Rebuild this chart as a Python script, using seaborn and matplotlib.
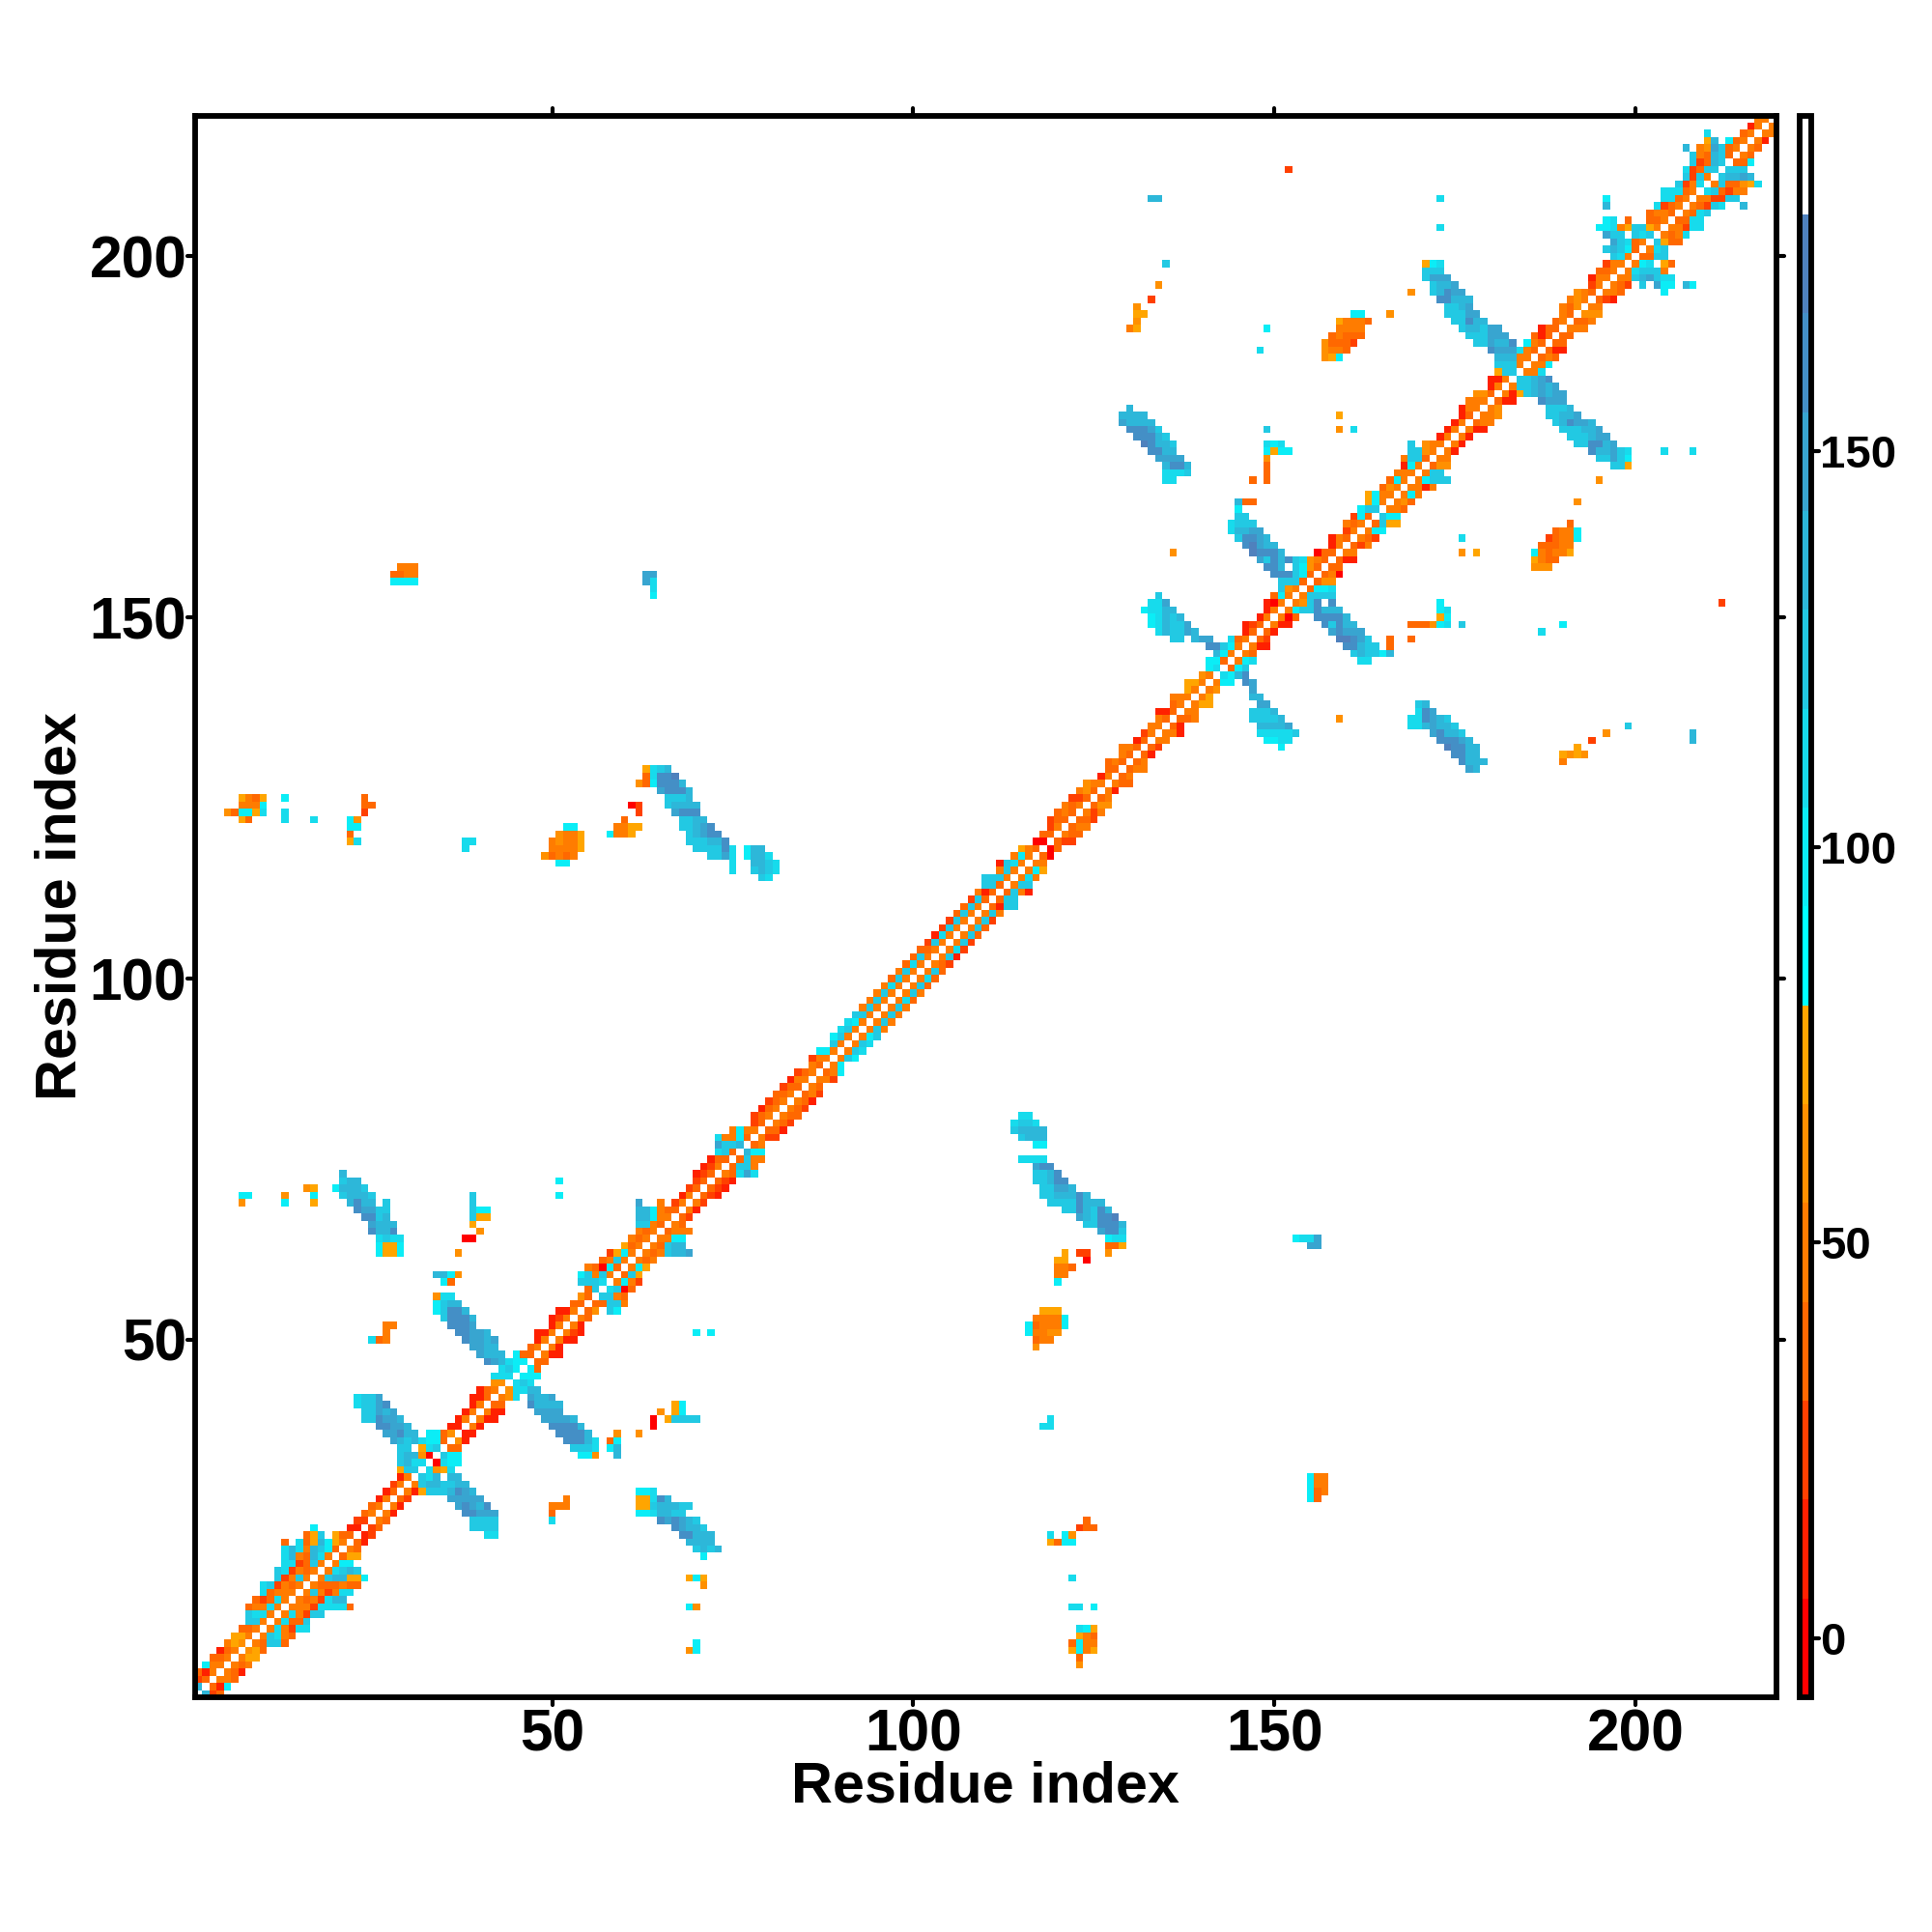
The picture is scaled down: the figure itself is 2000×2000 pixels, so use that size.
import numpy as np
import pandas as pd
import matplotlib
matplotlib.use("Agg")
import matplotlib.pyplot as plt
from matplotlib.colors import ListedColormap, BoundaryNorm
from matplotlib.markers import MarkerStyle
import seaborn as sns

N_RES = 219
DIAGONAL_VALUE = 186.0
BOUNDS = [-7.5, 5, 17.5, 30, 42.5, 55, 67.5, 80, 92.5, 105, 117.5, 130, 142.5, 155, 167.5, 180, 192.5]
BIN_COLORS = ["#ff0000", "#ff2000", "#ff4000", "#ff6800", "#ff7c00", "#ff9000", "#ffa500",
              "#00ffff", "#0bedf6", "#17dbec", "#22c9e3", "#2db7d9", "#38a5d0", "#448fc6", "#4f81bd", "#ffffff"]
# one letter per colour bin, with a representative value
LEVELS = dict(r=0, s=11, t=24, u=36, o=49, p=61, q=74, c=86, d=98, e=111, f=124, g=136, h=149, i=161, j=174)

# cells right of the white diagonal, one string per residue (x = residue + 1, + 2, ...)
BAND_1_40 = ["gtu", "usd", "oou", "ous", "ouo", "oqq", "pqu", "ouffu", "ofeou", "oeotee",
             "oeuuf", "oeotff", "oooteeeeu", "ouotegg", "ofotoee", "ouuuouu", "ofggqqd", "oefgf", "odd", "uqq",
             "ou", "us", "st", "tu", "ou", "os", "os", "ut", "osqfffgihg", "ofggffgg",
             "feg-gg", "epqe", "redd", "fdd", "uu", "ps", "ss", "os", "oss", "oss"]
BAND_41_80 = ["uu", "ope", "peghg", "efe", "ddd", "du", "uu", "oss", "os", "oss",
              "ots", "os", "ou", "up-fd", "uuffo", "ffou", "efru", "odot", "ufq", "odq",
              "ouo", "ouofggh", "oufgg", "oodd", "uooo", "ou", "ut", "os", "ot", "uts",
              "uts", "uts", "ouehe", "uffo", "ufoo", "gdd", "uo", "ott", "uus", "out"]
BAND_81_120 = ["ouu", "out", "ous", "uot", "ou", "oot", "uod", "od", "ofd", "ofe",
               "ofe", "odf", "ofo", "ofo", "ofo", "ofo", "oeu", "ofo", "ofu", "oeu",
               "ofu", "out", "ofs", "oet", "oft", "ofu", "ofu", "oft", "ofo", "usff",
               "uff", "ufos", "off", "oeo", "odq", "oo", "ur", "ru", "utt", "ouu"]
BAND_121_160 = ["uoo", "uut", "oto", "upp", "uo", "os", "ouu", "uo", "uoo", "uo",
                "us", "ut", "oo", "oos", "us", "uuo", "oo", "oqq", "oq", "op",
                "odd", "edgi", "udf", "ode", "ou", "oss", "ut", "us", "oss", "oru",
                "odffhgfg", "opfh-i", "offf", "uddd", "upp", "uor", "uu", "uss", "oo", "uto"]
BAND_161_218 = ["out", "odd", "ufqq", "fdd", "oou", "opu", "odo", "ooso", "odfff", "off",
                "upp", "oo", "os", "os", "os", "oss", "uoo", "oop", "op", "uss",
                "osqfghghh", "offghgh", "ffghi", "ooe", "ood", "uou", "uss", "uu", "uu", "ooo",
                "uuo", "ppp", "oo", "uts", "oou", "out", "oofghfee", "oefffo", "ode-qu", "uuff",
                "oef", "fquu", "ouoe", "ootee", "uuee", "ouef", "outfe", "oottff", "efutoo", "ofuupqe",
                "fgghg", "fff", "uud", "ou", "ou", "os", "oo", "o"]

# off-band contacts: (residue on y, first residue on x, codes)
ARMS_A = [(28, 36, "hhhhh"), (27, 37, "hihgi"), (26, 38, "iihhh"), (25, 39, "ffff"), (24, 39, "ffff"), (23, 41, "ee"),
          (34, 54, "ddp"), (35, 53, "fffe"), (36, 52, "iiige"), (37, 51, "iiiig"), (38, 50, "iiiig"), (39, 49, "hhhhg"),
          (40, 48, "hhhh"), (41, 47, "igggg"), (42, 47, "hggh"), (43, 46, "eg")]
SPOTS_A = [(34, 59, "g"), (35, 58, "dg"), (36, 58, "ud"), (37, 59, "p"), (25, 50, "e"), (26, 50, "u"), (27, 50, "ooo"), (28, 52, "o"),
           (51, 70, "d"), (51, 72, "d"), (41, 67, "qd"), (40, 67, "qd"), (40, 65, "p"), (39, 66, "qffff"), (39, 64, "r"), (38, 64, "r"), (37, 62, "p")]
ARMS_B = [(29, 62, "dde"), (28, 62, "qqeig"), (27, 62, "qqfgggff"), (26, 62, "ddeggff"), (25, 65, "ihihgf"), (24, 67, "ihggf"),
          (23, 68, "iiggg"), (22, 69, "gggg"), (21, 70, "fgfg"), (20, 71, "d"), (17, 69, "qdq"), (16, 71, "p"), (13, 69, "dp"), (8, 70, "d"), (7, 69, "pd")]
ARMS_C = [(81, 115, "ee"), (80, 114, "effe"), (79, 114, "fgggg"), (78, 115, "fggg"), (77, 117, "dd"), (75, 115, "eeee"),
          (74, 117, "hii"), (73, 117, "ffgi"), (72, 117, "ffgii"), (71, 118, "ffhhg"), (70, 118, "ffgggig"), (69, 119, "ffffiggg"),
          (68, 121, "ffigfig"), (67, 123, "hgfiij"), (66, 124, "ffiiig"), (65, 126, "hiif"), (64, 127, "dee"), (63, 127, "uuq"), (62, 127, "p")]
SPOTS_C = [(62, 121, "q"), (62, 123, "tt"), (61, 120, "qq"), (61, 124, "r"), (60, 120, "oou"), (59, 120, "oo"), (58, 120, "d"),
           (54, 118, "qqq"), (53, 117, "ooood"), (52, 116, "duoood"), (51, 116, "doopp"), (50, 117, "uoo"), (49, 117, "p"),
           (39, 119, "e"), (38, 118, "ee"), (31, 155, "doo"), (30, 155, "doo"), (29, 155, "duo"), (28, 155, "du"),
           (64, 153, "deeh"), (63, 155, "hh"), (25, 124, "u"), (24, 123, "tuu"), (23, 119, "e"), (23, 121, "dp"), (22, 119, "qu"), (22, 121, "dd"),
           (17, 122, "e"), (13, 122, "ee"), (13, 125, "d"), (10, 123, "edq"), (9, 123, "qou"), (8, 122, "udoo"), (7, 122, "qdoq"), (6, 123, "u"), (5, 123, "p")]
ARMS_D = [(160, 146, "hhggg"), (159, 147, "ihhhg"), (158, 148, "igigife"), (157, 149, "hhg"), (156, 150, "hii"), (155, 151, "fff"), (154, 151, "f"),
          (150, 156, "iiiig"), (149, 157, "ifigg"), (148, 158, "hihhg"), (147, 159, "jjihg"), (146, 160, "iihgg"), (145, 161, "fggfde"), (144, 162, "fe"),
          (141, 146, "ih"), (140, 147, "h"), (139, 147, "gg"), (138, 148, "hh"), (137, 147, "fffg"), (136, 147, "ffffg"), (135, 148, "ggggh"),
          (134, 148, "eeeeef"), (133, 149, "ddee"), (132, 151, "d")]
ARMS_E = [(138, 170, "fh"), (137, 170, "ehh"), (136, 169, "eeigff"), (135, 169, "eeggfgf"), (134, 172, "iiggf"), (133, 173, "iiigg"),
          (132, 174, "jiigg"), (131, 175, "iigg"), (130, 176, "igff"), (129, 177, "if")]
SPOTS_E = [(136, 159, "p"), (159, 136, "p"), (159, 176, "p"), (159, 178, "p"), (147, 166, "u"), (146, 166, "u"), (147, 169, "u"),
           (149, 169, "uuo"), (149, 173, "dg"), (149, 176, "e"), (150, 173, "pd"), (151, 173, "de"), (152, 173, "d"),
           (132, 192, "q"), (131, 190, "qpqp"), (130, 190, "u"), (133, 194, "t"), (134, 196, "p"), (135, 199, "e")]
ARMS_F = [(199, 171, "qde"), (198, 171, "fff"), (197, 171, "fhhh"), (196, 172, "fggh"), (195, 172, "fgigh"), (194, 173, "iiiig"),
          (193, 174, "ffff"), (192, 174, "fffgg"), (191, 175, "ggigh"), (190, 176, "ffff"), (189, 177, "eee"), (188, 178, "ee"),
          (180, 187, "ihhh"), (179, 188, "fffg"), (178, 188, "ffggh"), (177, 189, "fgihhg"), (176, 190, "fffggh"), (175, 191, "fffghh")]
BLOB_G = [(192, 161, "dd"), (192, 166, "p"), (191, 159, "qooou"), (190, 159, "oooo"), (189, 158, "uouuu"), (188, 157, "puuut"), (187, 157, "poou"), (186, 157, "pqd")]
SPOTS_H = [(212, 152, "t"), (208, 133, "gg"), (208, 173, "e"), (204, 173, "e"), (199, 135, "f"), (196, 134, "p"), (194, 133, "t"), (193, 131, "p"),
           (192, 131, "qq"), (191, 131, "p"), (190, 130, "oq"), (190, 149, "d"), (187, 148, "e"), (195, 169, "p"), (178, 159, "q"), (176, 159, "p"), (176, 161, "e"),
           (176, 149, "f"), (174, 149, "ede"), (173, 149, "dqdd"), (172, 149, "p"), (171, 149, "u"), (170, 149, "u"), (169, 147, "u"),
           (166, 145, "guu"), (165, 145, "d"), (164, 145, "ff"), (163, 144, "efff"), (162, 144, "egghh")]
ARMS_I = [(179, 130, "g"), (178, 129, "gggg"), (177, 129, "hgggg"), (176, 130, "iiihf"), (175, 131, "iiigf"), (174, 132, "jiggf"), (173, 133, "iigg"),
          (172, 134, "hhhh"), (171, 135, "giig"), (170, 135, "eeef"), (169, 135, "ee")]
SPOTS_J = [(195, 204, "d"), (196, 201, "f"), (196, 203, "hdd"), (196, 207, "gd"), (207, 215, "g")]

OFF_GROUPS = [ARMS_A, SPOTS_A, ARMS_B, ARMS_C, SPOTS_C, ARMS_D, ARMS_E, SPOTS_E, ARMS_F, BLOB_G, SPOTS_H, ARMS_I, SPOTS_J]
BAND_ROWS = BAND_1_40 + BAND_41_80 + BAND_81_120 + BAND_121_160 + BAND_161_218

X_TICKS = [50, 100, 150, 200]
CB_TICKS = [0, 50, 100, 150]
AXIS_LABEL = "Residue index"

matrix = np.full((N_RES, N_RES), np.nan)
np.fill_diagonal(matrix, DIAGONAL_VALUE)


def stamp(row, first, codes):
    for k, code in enumerate(codes):
        if code != "-":
            matrix[row - 1, first - 1 + k] = LEVELS[code]
            matrix[first - 1 + k, row - 1] = LEVELS[code]


for k, codes in enumerate(BAND_ROWS):
    stamp(k + 1, k + 2, codes)
for group in OFF_GROUPS:
    for row, first, codes in group:
        stamp(row, first, codes)

residues = np.arange(1, N_RES + 1)
frame = pd.DataFrame(matrix, index=residues, columns=residues)

sns.set_theme(style="white")
plt.rcParams["font.family"] = ["Liberation Sans", "DejaVu Sans"]
plt.rcParams["font.weight"] = "bold"

fig = plt.figure(figsize=(10, 10), dpi=200)
ax = fig.add_axes([201.7 / 2000, 243 / 2000, 1637 / 2000, 1637.5 / 2000])
cax = fig.add_axes([1862.5 / 2000, 243 / 2000, 12 / 2000, 1637.5 / 2000])

cmap = ListedColormap(BIN_COLORS)
norm = BoundaryNorm(BOUNDS, cmap.N)
sns.heatmap(frame, ax=ax, cbar_ax=cax, cmap=cmap, norm=norm, vmin=BOUNDS[0], vmax=BOUNDS[-1],
            square=False, xticklabels=False, yticklabels=False,
            cbar_kws=dict(ticks=CB_TICKS, spacing="proportional"))
ax.invert_yaxis()
ax.set_xlim(0, N_RES)
ax.set_ylim(0, N_RES)

tick_pos = [t - 0.5 for t in X_TICKS]
ax.set_xticks(tick_pos, labels=[str(t) for t in X_TICKS], fontsize=21.8, fontweight="bold", rotation=0)
ax.set_yticks(tick_pos, labels=[str(t) for t in X_TICKS], fontsize=21.8, fontweight="bold", rotation=0)
ax.tick_params(axis="both", which="major", length=3.0, width=1.5, color="black", labelcolor="black",
               top=True, right=True, bottom=True, left=True, labeltop=False, labelright=False)
ax.tick_params(axis="x", pad=1.2)
ax.tick_params(axis="y", pad=0.0)
for side in ax.spines.values():
    side.set_visible(True)
    side.set_linewidth(2.1)
    side.set_color("black")
ax.set_xlabel(AXIS_LABEL, fontsize=21.4, fontweight="bold", color="black")
ax.set_ylabel(AXIS_LABEL, fontsize=21.4, fontweight="bold", color="black")
ax.xaxis.set_label_coords(0.5, -0.0570)
ax.yaxis.set_label_coords(-0.0850, 0.5)
ax.xaxis.label.set_va("center")
ax.yaxis.label.set_va("center")

cbar = ax.collections[0].colorbar
cbar.set_ticks(CB_TICKS, labels=[str(t) for t in CB_TICKS])
cbar.ax.tick_params(length=3.0, width=1.5, color="black", labelcolor="black", labelsize=17, pad=0.5, right=True)
for lab in cbar.ax.get_yticklabels():
    lab.set_fontweight("bold")
cbar.outline.set_visible(True)
cbar.outline.set_linewidth(2.1)
cbar.outline.set_edgecolor("black")
cbar.minorticks_off()

for axis_obj in (ax.xaxis, ax.yaxis, cbar.ax.yaxis):
    for tick in axis_obj.get_major_ticks():
        for line in (tick.tick1line, tick.tick2line):
            line.set_marker(MarkerStyle(line.get_marker(), capstyle="round"))

fig.savefig("out.png", dpi=200, facecolor="white")
